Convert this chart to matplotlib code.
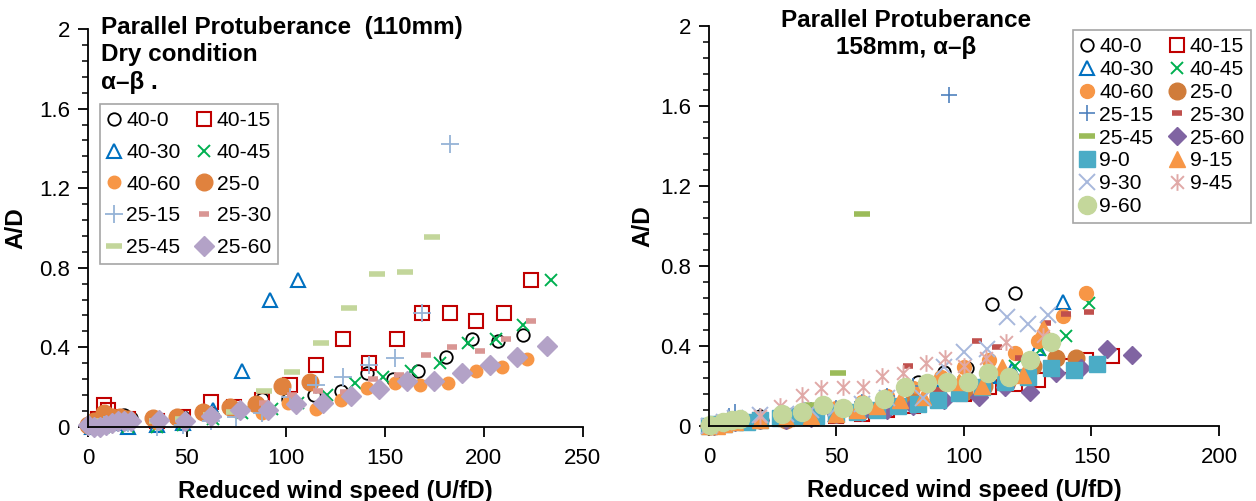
import matplotlib
matplotlib.use("Agg")
import matplotlib.pyplot as plt
from matplotlib.path import Path
from matplotlib.ticker import MultipleLocator

plt.rcParams['font.family'] = ['Liberation Sans', 'DejaVu Sans']

# excel-style asterisk: an x with a vertical stroke
asterisk = Path([(-1, -1), (1, 1), (-1, 1), (1, -1), (0, -1.3), (0, 1.3)],
                [Path.MOVETO, Path.LINETO, Path.MOVETO, Path.LINETO, Path.MOVETO, Path.LINETO])

labels_110 = ["40-0", "40-15", "40-30", "40-45", "40-60", "25-0", "25-15", "25-30", "25-45", "25-60"]
labels_158 = labels_110 + ["9-0", "9-15", "9-30", "9-45", "9-60"]

# ---- 110mm, dry condition ----
x110 = {
    "40-0": [2, 5, 8, 12, 15, 18, 22, 35, 48, 62, 75, 88, 101, 114, 128, 141, 154, 167, 181, 194, 207, 220],
    "40-15": [5, 8, 10, 14, 20, 35, 48, 62, 74, 88, 102, 115, 129, 142, 156, 169, 183, 196, 210, 224],
    "40-30": [2, 6, 10, 15, 20, 35, 48, 63, 78, 92, 106],
    "40-45": [3, 8, 12, 20, 35, 48, 63, 78, 93, 106, 121, 135, 149, 163, 178, 192, 206, 220, 234],
    "40-60": [3, 6, 10, 15, 20, 35, 48, 62, 75, 88, 101, 115, 128, 141, 155, 168, 182, 196, 209, 222],
    "25-0": [0, 3, 8, 12, 16, 20, 33, 45, 58, 72, 85, 98, 112],
    "25-15": [3, 8, 15, 20, 35, 48, 62, 75, 88, 102, 115, 129, 142, 155, 169, 183],
    "25-30": [3, 8, 14, 20, 35, 48, 62, 76, 89, 103, 116, 130, 144, 157, 171, 184, 198, 211, 224],
    "25-45": [3, 8, 15, 20, 35, 48, 62, 74, 89, 103, 118, 132, 146, 160, 174],
    "25-60": [0, 3, 6, 9, 12, 15, 18, 22, 36, 49, 62, 77, 91, 105, 119, 133, 147, 161, 175, 189, 203, 217, 232],
}
y110 = {
    "40-0": [0.01, 0.02, 0.03, 0.04, 0.05, 0.06, 0.045, 0.04, 0.05, 0.07, 0.09, 0.14, 0.14, 0.16, 0.18, 0.27,
             0.24, 0.28, 0.35, 0.44, 0.43, 0.46],
    "40-15": [0.04, 0.11, 0.085, 0.05, 0.04, 0.03, 0.05, 0.127, 0.10, 0.135, 0.21, 0.31, 0.44, 0.32, 0.44,
              0.57, 0.57, 0.53, 0.57, 0.74],
    "40-30": [0.0, 0.01, 0.02, 0.02, 0.0, 0.01, 0.02, 0.085, 0.28, 0.64, 0.74],
    "40-45": [0.01, 0.0, 0.02, 0.0, 0.0, 0.01, 0.04, 0.07, 0.09, 0.12, 0.16, 0.22, 0.25, 0.28, 0.32, 0.42,
              0.44, 0.51, 0.74],
    "40-60": [0.01, 0.02, 0.03, 0.04, 0.03, 0.02, 0.03, 0.05, 0.08, 0.07, 0.12, 0.09, 0.135, 0.195, 0.22,
              0.21, 0.22, 0.28, 0.30, 0.34],
    "25-0": [0.01, 0.03, 0.07, 0.05, 0.05, 0.04, 0.045, 0.05, 0.075, 0.10, 0.115, 0.205, 0.225],
    "25-15": [0.0, 0.01, 0.02, 0.02, 0.0, 0.01, 0.03, 0.05, 0.07, 0.15, 0.21, 0.25, 0.31, 0.345, 0.57, 1.42],
    "25-30": [0.01, 0.03, 0.04, 0.03, 0.02, 0.03, 0.05, 0.08, 0.12, 0.16, 0.18, 0.175, 0.24, 0.26, 0.36,
              0.40, 0.38, 0.44, 0.53],
    "25-45": [0.01, 0.03, 0.04, 0.04, 0.03, 0.04, 0.06, 0.075, 0.18, 0.275, 0.42, 0.60, 0.77, 0.78, 0.955],
    "25-60": [0.01, 0.0, 0.0, 0.01, 0.02, 0.03, 0.03, 0.03, 0.035, 0.03, 0.055, 0.085, 0.085, 0.115, 0.12,
              0.155, 0.19, 0.23, 0.23, 0.27, 0.31, 0.35, 0.405],
}

# ---- 158mm ----
x158 = {
    "40-0": [0, 2, 4, 6, 8, 10, 20, 30, 40, 50, 60, 70, 82, 92, 101, 111, 120],
    "40-15": [2, 5, 10, 20, 30, 40, 50, 60, 70, 80, 90, 100, 110, 120, 129, 139, 148, 158],
    "40-30": [2, 5, 10, 20, 30, 40, 50, 60, 70, 80, 90, 100, 110, 119, 129, 139],
    "40-45": [2, 5, 10, 20, 30, 40, 50, 60, 70, 80, 90, 100, 110, 120, 130, 140, 149],
    "40-60": [2, 5, 8, 10, 20, 30, 40, 50, 60, 70, 80, 91, 100, 110, 120, 129, 139, 148],
    "25-0": [0, 3, 6, 10, 20, 30, 40, 50, 60, 70, 80, 90, 100, 108, 117, 127, 136, 144],
    "25-15": [2, 5, 8, 10, 20, 30, 40, 50, 60, 70, 80, 94],
    "25-30": [2, 5, 10, 20, 30, 40, 50, 60, 70, 78, 90, 100, 105, 113, 122, 132, 140, 149],
    "25-45": [2, 5, 10, 20, 30, 40, 50.6, 60],
    "25-60": [2, 5, 10, 20, 30, 40, 50, 60, 70, 80, 92, 106, 116, 126, 136, 146, 156, 166],
    "9-0": [0, 3, 6, 10, 15, 20, 28, 35, 42, 50, 58, 66, 74, 82, 90, 98, 107, 116, 125, 134, 143, 152],
    "9-15": [0, 3, 6, 10, 20, 30, 40, 50, 58, 66, 75, 84, 98, 107, 115, 123, 131],
    "9-30": [0, 3, 6, 10, 20, 30, 40, 50, 60, 70, 84, 92, 100, 109, 117, 125, 133],
    "9-45": [0, 3, 6, 10, 20, 28, 36.5, 44, 52.5, 60.5, 68, 76, 85, 92.5, 100, 108.6, 116.5, 131],
    "9-60": [0.4, 5.5, 9, 12, 28.6, 36.5, 44.6, 52.5, 60.5, 68.6, 77, 85.4, 93.3, 101.6, 109.4, 117.6, 126, 134],
}
y158 = {
    "40-0": [0.0, 0.01, 0.01, 0.02, 0.02, 0.03, 0.05, 0.06, 0.07, 0.07, 0.09, 0.12, 0.22, 0.27, 0.29, 0.61, 0.665],
    "40-15": [0.0, 0.01, 0.02, 0.03, 0.04, 0.04, 0.05, 0.06, 0.08, 0.10, 0.13, 0.16, 0.195, 0.21, 0.23, 0.30,
              0.33, 0.35],
    "40-30": [0.0, 0.01, 0.02, 0.03, 0.04, 0.05, 0.06, 0.08, 0.10, 0.13, 0.17, 0.21, 0.25, 0.28, 0.39, 0.62],
    "40-45": [0.0, 0.01, 0.02, 0.03, 0.04, 0.05, 0.06, 0.08, 0.11, 0.14, 0.17, 0.22, 0.26, 0.30, 0.38, 0.45, 0.615],
    "40-60": [0.0, 0.01, 0.02, 0.03, 0.04, 0.05, 0.07, 0.09, 0.12, 0.15, 0.19, 0.245, 0.295, 0.33, 0.365, 0.425,
              0.55, 0.665],
    "25-0": [0.0, 0.01, 0.02, 0.03, 0.03, 0.03, 0.05, 0.06, 0.08, 0.10, 0.12, 0.15, 0.17, 0.20, 0.22, 0.30,
             0.34, 0.34],
    "25-15": [0.0, 0.02, 0.05, 0.07, 0.05, 0.06, 0.08, 0.09, 0.12, 0.15, 0.20, 1.655],
    "25-30": [0.0, 0.01, 0.03, 0.04, 0.05, 0.06, 0.07, 0.09, 0.12, 0.30, 0.18, 0.22, 0.425, 0.395, 0.34, 0.515,
              0.56, 0.57],
    "25-45": [0.0, 0.01, 0.03, 0.04, 0.06, 0.105, 0.265, 1.06],
    "25-60": [0.0, 0.01, 0.02, 0.03, 0.03, 0.04, 0.06, 0.07, 0.08, 0.10, 0.13, 0.145, 0.195, 0.17, 0.265, 0.29,
              0.385, 0.355],
    "9-0": [0.0, 0.01, 0.01, 0.02, 0.02, 0.03, 0.04, 0.05, 0.05, 0.06, 0.07, 0.08, 0.10, 0.11, 0.13, 0.165,
            0.195, 0.22, 0.245, 0.29, 0.28, 0.31],
    "9-15": [0.0, 0.0, 0.01, 0.02, 0.03, 0.04, 0.05, 0.06, 0.08, 0.10, 0.13, 0.145, 0.22, 0.20, 0.295, 0.255, 0.49],
    "9-30": [0.0, 0.01, 0.02, 0.04, 0.055, 0.06, 0.08, 0.09, 0.11, 0.14, 0.14, 0.295, 0.37, 0.385, 0.545,
             0.51, 0.555],
    "9-45": [0.0, 0.01, 0.02, 0.03, 0.05, 0.10, 0.155, 0.19, 0.195, 0.195, 0.25, 0.265, 0.315, 0.34, 0.30,
             0.34, 0.42, 0.45],
    "9-60": [0.005, 0.02, 0.03, 0.035, 0.06, 0.07, 0.105, 0.09, 0.105, 0.135, 0.195, 0.215, 0.22, 0.22, 0.265,
             0.245, 0.33, 0.42],
}

# marker, size, face, edge, edge width
style110 = {
    "40-0": ('o', 9, 'none', 'black', 1.3),
    "40-15": ('s', 9.5, 'none', '#C00000', 1.5),
    "40-30": ('^', 9.5, 'none', '#0070C0', 1.5),
    "40-45": ('x', 9, 'none', '#00B050', 1.4),
    "40-60": ('o', 9, '#F79646', '#F79646', 1),
    "25-0": ('o', 12, '#E0823E', '#E0823E', 1),
    "25-15": ('+', 13, 'none', '#95B3D7', 1.3),
    "25-30": ('_', 7, 'none', '#D99694', 4),
    "25-45": ('_', 11, 'none', '#C3D69B', 4),
    "25-60": ('D', 10, '#B3A2C7', '#B3A2C7', 1),
}
style158 = {
    "40-0": ('o', 9, 'none', 'black', 1.3),
    "40-15": ('s', 9.5, 'none', '#C00000', 1.5),
    "40-30": ('^', 9.5, 'none', '#0070C0', 1.5),
    "40-45": ('x', 9, 'none', '#00B050', 1.4),
    "40-60": ('o', 10, '#F79646', '#F79646', 1),
    "25-0": ('o', 12, '#D07C3A', '#D07C3A', 1),
    "25-15": ('+', 11, 'none', '#4F81BD', 1.2),
    "25-30": ('_', 7, 'none', '#C0504D', 4),
    "25-45": ('_', 11, 'none', '#9BBB59', 4),
    "25-60": ('D', 9, '#8064A2', '#8064A2', 1),
    "9-0": ('s', 11.5, '#4BACC6', '#4BACC6', 1),
    "9-15": ('^', 12, '#F79646', '#F79646', 1),
    "9-30": ('x', 12, 'none', '#A7B8DC', 1.4),
    "9-45": (asterisk, 12, 'none', '#E0A9A7', 1.4),
    "9-60": ('o', 13, '#C4D79B', '#C4D79B', 1),
}

fig = plt.figure(figsize=(12.56, 5.01), dpi=100)
ax1 = fig.add_axes([0.070, 0.148, 0.394, 0.794])
ax2 = fig.add_axes([0.5645, 0.150, 0.406, 0.798])


def draw(ax, labels, xs, ys, styles):
    for lab in labels:
        m, ms, fc, ec, mew = styles[lab]
        ax.plot(xs[lab], ys[lab], linestyle='none', marker=m, markersize=ms,
                markerfacecolor=fc, markeredgecolor=ec, markeredgewidth=mew,
                label=lab, clip_on=False)


def dress(ax, xmax, xstep, ylabelpad):
    ax.set_xlim(0, xmax)
    ax.set_ylim(0, 2)
    ax.xaxis.set_major_locator(MultipleLocator(xstep))
    ax.yaxis.set_major_locator(MultipleLocator(0.4))
    ax.yaxis.set_minor_locator(MultipleLocator(0.08))
    ax.set_yticklabels([f"{v:g}" for v in ax.get_yticks()])
    for s in ('top', 'right'):
        ax.spines[s].set_visible(False)
    for s in ('left', 'bottom'):
        ax.spines[s].set_linewidth(1.3)
    ax.tick_params(which='major', length=7, width=1.3, labelsize=16, pad=6)
    ax.tick_params(axis='x', which='major', pad=8)
    ax.tick_params(which='minor', length=4, width=1.1)
    ax.tick_params(axis='x', which='minor', length=0)
    ax.set_xlabel("Reduced wind speed (U/fD)", fontsize=17.5, fontweight='bold', labelpad=8)
    ax.set_ylabel("A/D", fontsize=17.5, fontweight='bold', labelpad=ylabelpad)


def row_order(ax):
    # legend fills column by column; reorder so it reads across rows
    h, l = ax.get_legend_handles_labels()
    return h[0::2] + h[1::2], l[0::2] + l[1::2]


draw(ax1, labels_110, x110, y110, style110)
draw(ax2, labels_158, x158, y158, style158)
dress(ax1, 250, 50, 8)
dress(ax2, 200, 50, 4)

ax1.text(101, 485, "Parallel Protuberance  (110mm)\nDry condition\n\u03b1\u2013\u03b2 .",
         transform=None, fontsize=17.5, fontweight='bold', va='top', ha='left', linespacing=1.25)
ax2.text(906, 492, "Parallel Protuberance\n158mm, \u03b1\u2013\u03b2",
         transform=None, fontsize=17.5, fontweight='bold', va='top', ha='center', linespacing=1.2)

common = dict(frameon=True, fancybox=False, edgecolor='#A6A6A6', framealpha=1,
              fontsize=15.2, handlelength=0.6, handletextpad=0.3, borderpad=0.35,
              columnspacing=0.8, borderaxespad=0, ncol=2, loc='upper left',
              bbox_transform=fig.transFigure)
h1, l1 = row_order(ax1)
leg1 = ax1.legend(h1, l1, bbox_to_anchor=(100 / 1256, 1 - 104 / 501), labelspacing=0.6, **common)
h2, l2 = row_order(ax2)
leg2 = ax2.legend(h2, l2, bbox_to_anchor=(1073 / 1256, 1 - 30 / 501), labelspacing=0.18, **common)
for leg in (leg1, leg2):
    leg.get_frame().set_linewidth(1.2)

fig.savefig("out.png", dpi=100)
